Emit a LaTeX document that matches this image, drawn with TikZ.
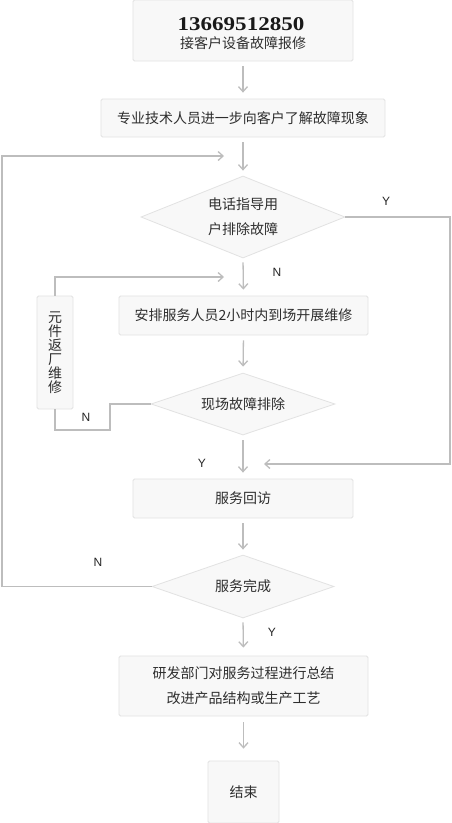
\documentclass[tikz,border=0pt]{standalone}
\usepackage{fontspec}
\setmainfont{Noto Sans CJK SC}
\newfontfamily\numfont[FakeStretch=1.18]{Liberation Serif}
\newfontfamily\lblfont{Liberation Sans}
\usetikzlibrary{shapes.geometric,arrows.meta}
\definecolor{boxfill}{HTML}{F8F8F8}
\definecolor{boxline}{HTML}{E2E2E2}
\definecolor{conn}{HTML}{BDBDBD}
\definecolor{txt}{HTML}{2E2E2E}
\tikzset{
  x=1pt,y=-1pt,
  every node/.style={text=txt},
  stepbox/.style={rectangle, draw=boxline, fill=boxfill, line width=0.8pt, rounded corners=1.5pt, inner sep=0pt, font=\fontsize{14}{25}\selectfont, align=center},
  decbox/.style={diamond, draw=boxline, fill=boxfill, line width=0.8pt, inner sep=0pt, aspect=2.5, font=\fontsize{14}{25}\selectfont, align=center},
  conn/.style={draw=conn, line width=1.3pt},
  arr/.style={conn, -{Straight Barb[length=5pt,width=9pt,line width=1.3pt]}},
  lbl/.style={font=\lblfont\fontsize{12}{14}\selectfont, text=black!85},
}
\begin{document}
\begin{tikzpicture}
\useasboundingbox[fill=white] (0,0) rectangle (452,823);
% nodes
\node[stepbox, minimum width=220pt, minimum height=61pt] (b1) at (243,30.5) {};
\node[font=\numfont\bfseries\fontsize{19.5}{20}\selectfont, text=black!90] (num) at (241,24) {13669512850};
\node[font=\fontsize{14}{14}\selectfont] (sub) at (243,43) {接客户设备故障报修};
\node[stepbox, minimum width=284pt, minimum height=38pt] (b2) at (243,118) {专业技术人员进一步向客户了解故障现象};
\node[decbox, minimum width=204pt, minimum height=82pt] (d1) at (243,217) {电话指导用\\户排除故障};
\node[stepbox, minimum width=249pt, minimum height=39pt] (b3) at (243.5,315.5) {安排服务人员2小时内到场开展维修};
\node[decbox, minimum width=184pt, minimum height=62pt] (d2) at (243,404) {现场故障排除};
\node[stepbox, minimum width=36pt, minimum height=113pt, font=\fontsize{14}{14}\selectfont] (side) at (55,352.5) {元\\件\\返\\厂\\维\\修};
\node[stepbox, minimum width=220pt, minimum height=39pt] (b4) at (243,498.5) {服务回访};
\node[decbox, minimum width=182pt, minimum height=63pt] (d3) at (243,586.5) {服务完成};
\node[stepbox, minimum width=249pt, minimum height=60pt] (b5) at (243.5,686) {研发部门对服务过程进行总结\\改进产品结构或生产工艺};
\node[stepbox, minimum width=71pt, minimum height=62pt] (b6) at (243.5,792) {结束};
% labels
\node[lbl] (y1) at (386,201) {Y};
\node[lbl] (n1) at (277,272) {N};
\node[lbl] (n2) at (86,417) {N};
\node[lbl] (y2) at (202,463) {Y};
\node[lbl] (n3) at (98,562) {N};
\node[lbl] (y3) at (272,632) {Y};
% junction coordinates
\coordinate (j1) at (224,277);
\coordinate (j2) at (264,464);
\coordinate (j3) at (224,156);
\coordinate (r1) at (450,217);
\coordinate (l1) at (2,586.5);
\coordinate (k1) at (110,404);
\coordinate (k2) at (110,430);
% vertical arrows
\draw[arr, shorten <=5pt, shorten >=6pt] (b1.south) -- (b2.north);
\draw[arr, shorten <=5pt, shorten >=5pt] (b2.south) -- (d1.north);
\draw[arr, shorten <=4pt, shorten >=6pt] (d1.south) -- (b3.north);
\draw[arr, shorten <=5pt, shorten >=6pt] (b3.south) -- (d2.north);
\draw[arr, shorten <=5pt, shorten >=6pt] (d2.south) -- (b4.north);
\draw[arr, shorten <=5pt, shorten >=5pt] (b4.south) -- (d3.north);
\draw[arr, shorten <=4pt, shorten >=8pt] (d3.south) -- (b5.north);
\draw[arr, shorten <=6pt, shorten >=12pt] (b5.south) -- (b6.north);
% loops
\draw[arr] (d1.east) -- (r1) |- (j2);
\draw[arr] (side.north) |- (j1);
\draw[conn] (d2.west) -- (k1) -- (k2) -| (side.south);
\draw[arr] (d3.west) -- (l1) |- (j3);
\end{tikzpicture}
\end{document}
